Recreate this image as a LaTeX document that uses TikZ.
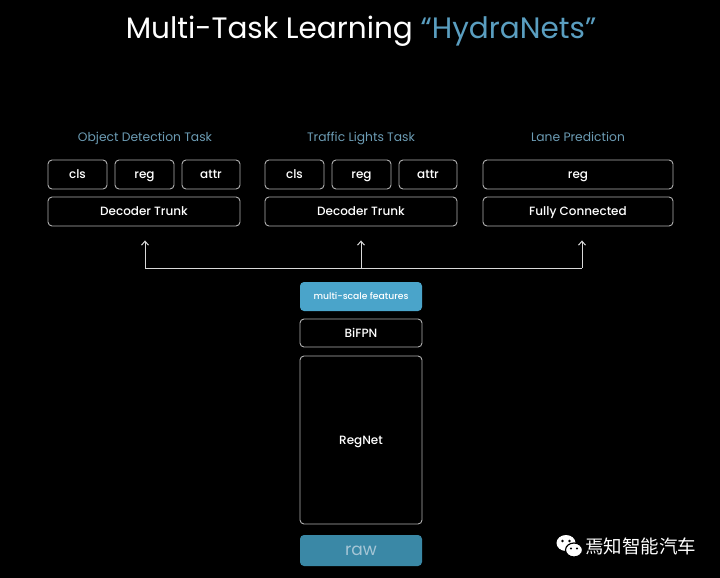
\documentclass[tikz,border=0pt]{standalone}
\usepackage{fontspec}
\usetikzlibrary{arrows.meta}
\setmainfont{Poppins}
\newfontfamily\medfont{Poppins Medium}
\newfontfamily\cjk{Noto Sans CJK SC}
\definecolor{bgc}{HTML}{000000}
\definecolor{titleblue}{HTML}{5A9EC0}
\definecolor{tasklabel}{HTML}{6C9CB4}
\definecolor{boxline}{HTML}{B0B0B0}
\definecolor{msfill}{HTML}{4AA4CA}
\definecolor{rawfill}{HTML}{3A88A6}
\definecolor{rawtext}{HTML}{A6C6D6}
\begin{document}
\begin{tikzpicture}[x=1pt,y=-1pt,
  blk/.style={draw=boxline,line width=0.9pt,rounded corners=4pt,text=white,font=\medfont\fontsize{12}{13}\selectfont,inner sep=0pt,text height=8pt,text depth=0pt},
  tasklbl/.style={text=tasklabel,font=\fontsize{12.3}{13}\selectfont,inner sep=0pt,anchor=base},
  conn/.style={draw=white!85!black,line width=1pt},
  arr/.style={conn,-{Straight Barb[length=4pt,width=7pt]}}]
\useasboundingbox[fill=bgc] (0,0) rectangle (720,578);
\node[text=white,font=\fontsize{29.5}{32}\selectfont,inner sep=0pt,anchor=base] (title) at (361,39) {Multi-Task Learning \textcolor{titleblue}{“HydraNets”}};
% task labels
\node[tasklbl] (lod) at (145,141.5) {Object Detection Task};
\node[tasklbl] (ltl) at (361,141.5) {Traffic Lights Task};
\node[tasklbl] (llp) at (578,141.5) {Lane Prediction};
% object detection
\node[blk,minimum width=59pt,minimum height=29pt] (odcls) at (77.5,174.5) {cls};
\node[blk,minimum width=59pt,minimum height=29pt] (odreg) at (144.5,174.5) {reg};
\node[blk,minimum width=58pt,minimum height=29pt] (odattr) at (211,174.5) {attr};
\node[blk,minimum width=192pt,minimum height=29pt] (oddec) at (144,211.5) {Decoder Trunk};
% traffic lights
\node[blk,minimum width=59pt,minimum height=29pt] (tlcls) at (294.5,174.5) {cls};
\node[blk,minimum width=59pt,minimum height=29pt] (tlreg) at (361.5,174.5) {reg};
\node[blk,minimum width=58pt,minimum height=29pt] (tlattr) at (428,174.5) {attr};
\node[blk,minimum width=192pt,minimum height=29pt] (tldec) at (361,211.5) {Decoder Trunk};
% lane
\node[blk,minimum width=190pt,minimum height=29pt] (lpreg) at (578,174.5) {reg};
\node[blk,minimum width=190pt,minimum height=29pt] (lpfc) at (578,211.5) {Fully Connected};
% backbone
\node[blk,draw=none,fill=msfill,minimum width=122pt,minimum height=29pt,font=\medfont\fontsize{9.2}{10}\selectfont,text height=6pt] (ms) at (361,296.5) {multi-scale features};
\node[blk,minimum width=122pt,minimum height=28pt] (bifpn) at (361,333) {BiFPN};
\node[blk,minimum width=122pt,minimum height=168pt] (regnet) at (361,440) {RegNet};
\node[blk,draw=none,fill=rawfill,text=rawtext,minimum width=122pt,minimum height=31pt,font=\fontsize{17}{18}\selectfont,text height=9pt] (raw) at (361,550.5) {raw};
% connectors
\coordinate (jl) at (145,268);
\coordinate (jc) at (361,268);
\coordinate (jr) at (582,268);
\draw[conn] (jl) -- (jr);
\draw[arr] (jl) -- ([yshift=-14pt]oddec.south -| jl);
\draw[arr] (jc) -- ([yshift=-14pt]tldec.south -| jc);
\draw[arr] (jr) -- ([yshift=-14pt]lpfc.south -| jr);
% watermark
\fill[white] (566,543) ellipse [x radius=9.5pt, y radius=8pt];
\fill[black] (562.5,541) circle [radius=1.3pt] (569.5,541) circle [radius=1.3pt];
\filldraw[fill=white,draw=black,line width=1.2pt] (574,550) ellipse [x radius=8.5pt, y radius=7pt];
\fill[black] (571,548.5) circle [radius=1.1pt] (577,548.5) circle [radius=1.1pt];
\node[text=white,font=\cjk\fontsize{18.5}{19}\selectfont,inner sep=0pt,anchor=west] (wm) at (585,546) {焉知智能汽车};
\end{tikzpicture}
\end{document}
